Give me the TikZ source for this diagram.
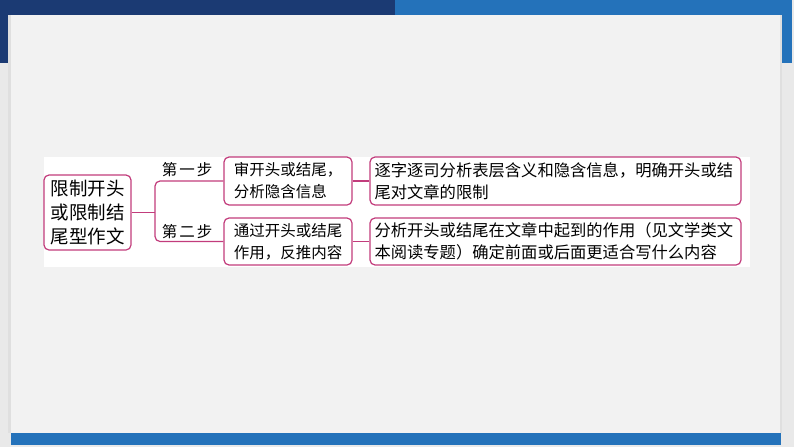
\documentclass[tikz,border=0pt]{standalone}
\usepackage{fontspec}
\newfontfamily\cjk{Noto Sans CJK SC}
\definecolor{navy}{HTML}{1B3A73}
\definecolor{blueb}{HTML}{2472BA}
\definecolor{panel}{HTML}{F2F2F2}
\definecolor{outer}{HTML}{E9E9E9}
\definecolor{pinkc}{HTML}{C23C7C}
\begin{document}
\begin{tikzpicture}[x=1pt,y=-1pt,
  box/.style={draw=pinkc, line width=1.2pt, rounded corners=5pt, fill=white, inner sep=0pt, font=\cjk},
  conn/.style={draw=pinkc, line width=1.2pt, rounded corners=5pt},
  steplabel/.style={inner sep=0pt, font=\cjk\fontsize{15.5}{17}\selectfont}]
\useasboundingbox (0,0) rectangle (794,447);
\fill[outer] (0,0) rectangle (794,447);
\fill[navy] (0,0) rectangle (395,63);
\fill[blueb] (395,0) rectangle (792,63);
\fill[gray!25] (8,15) rectangle (782,433);
\fill[panel] (11,15) rectangle (780,433);
\fill[blueb] (11,433) rectangle (781,445);
\fill[white] (44,157) rectangle (750,267);

\node[box, minimum width=87pt, minimum height=75pt, align=center,
  font=\cjk\fontsize{18.5}{24}\selectfont] (root) at (87.5,212.5)
  {限制开头\\或限制结\\尾型作文};

\node[box, minimum width=128pt, minimum height=48pt, align=left,
  font=\cjk\fontsize{15.5}{22}\selectfont] (s1) at (288,181)
  {审开头或结尾，\\分析隐含信息};
\node[box, minimum width=128pt, minimum height=47pt, align=left,
  font=\cjk\fontsize{15.5}{22}\selectfont] (s2) at (288,241.5)
  {通过开头或结尾\\作用，反推内容};

\node[box, minimum width=371pt, minimum height=48pt, align=left, text width=362pt,
  font=\cjk\fontsize{16.3}{22}\selectfont] (d1) at (555.5,181)
  {逐字逐司分析表层含义和隐含信息，明确开头或结\\尾对文章的限制};
\node[box, minimum width=371pt, minimum height=47pt, align=left, text width=362pt,
  font=\cjk\fontsize{16.3}{22}\selectfont] (d2) at (555.5,241.5)
  {分析开头或结尾在文章中起到的作用（见文学类文\\本阅读专题）确定前面或后面更适合写什么内容};

\node[steplabel] (l1) at (187,170) {第\hspace{2pt}一\hspace{2pt}步};
\node[steplabel] (l2) at (187,232) {第\hspace{2pt}二\hspace{2pt}步};

\coordinate (fork) at (155,212.5);
\draw[conn] (root.east) -- (fork);
\draw[conn] (s1.west) -| (fork) |- (s2.west);
\draw[conn] (s1.east) -- (d1.west);
\draw[conn] (s2.east) -- (d2.west);
\end{tikzpicture}
\end{document}
